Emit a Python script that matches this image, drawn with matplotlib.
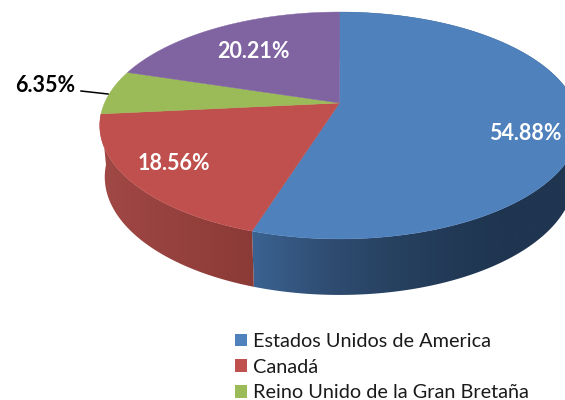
import numpy as np
import matplotlib
matplotlib.use("Agg")
import matplotlib.pyplot as plt
from matplotlib.patches import Patch, Polygon

categories = ["Estados Unidos de America", "Canadá", "Reino Unido de la Gran Bretaña", "Otros"]
shares = [54.88, 18.56, 6.35, 20.21]
colors = ["#4F81BD", "#C0504D", "#9BBB59", "#8064A2"]
legend_count = 3  # the fourth legend row falls outside the picture

plt.rcParams["font.family"] = ["Lato", "DejaVu Sans"]

fig = plt.figure(figsize=(5.65, 4.0), dpi=100)
ax = fig.add_axes([0, 0, 1, 1])

# Perspective view of the pie disc
CX, CY, A, B, K = 339.5, 103.0, 235.0, 109.0, 0.1982


def top_point(theta):
    u, v = np.sin(theta), np.cos(theta)
    d = 1 + K * v
    return CX + A * u / d, CY - B * v / d


def bottom_point(theta):
    x, y = top_point(theta)
    return 340 + (x - 340) * 235 / 240, 177 + (y - 125.5) * 118 / 113.5


edges = np.radians(np.concatenate([[0], np.cumsum(shares)]) * 360 / sum(shares))

wall_ramps = {
    0: ([250, 330, 400, 500, 600], ["#3B6392", "#2F4C71", "#26405F", "#1F3550", "#1F3550"]),
    1: ([90, 130, 260], ["#A34A47", "#9C4542", "#8B3A36"]),
}

# Side wall: a horizontal colour ramp clipped to each slice's outer band
xgrid = np.arange(80, 601)
for i in (0, 1):
    xs, cols = wall_ramps[i]
    rgb = np.array([matplotlib.colors.to_rgb(c) for c in cols])
    strip = np.stack([np.interp(xgrid, xs, rgb[:, k]) for k in range(3)], axis=-1)[None, :, :]
    th = np.linspace(edges[i], edges[i + 1], 240)
    xt, yt = top_point(th)
    xb, yb = bottom_point(th)
    band = Polygon(np.column_stack([np.r_[xt, xb[::-1]], np.r_[yt, yb[::-1]]]), closed=True,
                   facecolor="none", edgecolor="none", transform=ax.transData)
    ax.add_patch(band)
    im = ax.imshow(strip, extent=(80, 600, 320, 0), aspect="auto", interpolation="bilinear", zorder=2)
    im.set_clip_path(band)

ax.set_xlim(0, 565)
ax.set_ylim(400, 0)
ax.axis("off")

# Top face
for i, c in enumerate(colors):
    th = np.linspace(edges[i], edges[i + 1], 200)
    xt, yt = top_point(th)
    ax.fill(np.r_[CX, xt], np.r_[CY, yt], facecolor=c, edgecolor=c, linewidth=0.3, zorder=3)

# Value labels
label_pos = [(525, 133), (174, 163), (45, 86), (253, 51)]
label_col = ["white", "white", "black", "white"]
for s, (x, y), c in zip(shares, label_pos, label_col):
    ax.text(x, y, f"{s:.2f}%", color=c, fontsize=15.5, fontweight="bold", ha="center", va="center", zorder=5)
ax.plot([81, 108], [91, 94], color="black", lw=1.1, zorder=4)

# Legend
handles = [Patch(facecolor=c, edgecolor="none") for c in colors[:legend_count]]
ax.legend(handles, categories[:legend_count], loc="upper left", bbox_to_anchor=(235 / 565, 1 - 333 / 400),
          bbox_transform=ax.transAxes, frameon=False, fontsize=14.3, borderpad=0, borderaxespad=0,
          handlelength=0.6, handleheight=0.6, handletextpad=0.32, labelspacing=0.44, labelcolor="#1a1a1a")

fig.savefig("out.png", dpi=100)
